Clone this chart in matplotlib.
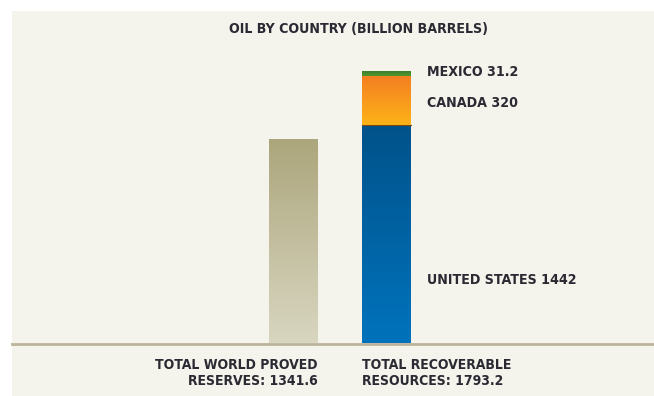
import matplotlib.pyplot as plt
import numpy as np
from matplotlib.colors import LinearSegmentedColormap
from matplotlib.transforms import blended_transform_factory

# billion barrels
countries = ['UNITED STATES', 'CANADA', 'MEXICO']
country_values = [1442, 320, 31.2]
world_proved = 1341.6
total_recoverable = 1793.2
bottom_labels = ['TOTAL WORLD PROVED\nRESERVES: 1341.6', 'TOTAL RECOVERABLE\nRESOURCES: 1793.2']

W, H = 654, 396
DPI = 100
BG = '#f4f3ec'
INK = '#2b2a33'
FONT = dict(family='DejaVu Sans', fontweight='bold', fontstretch='condensed', color=INK)

fig = plt.figure(figsize=(W / DPI, H / DPI), dpi=DPI, facecolor='white')

# cream panel with a white margin on the top and left
panel = plt.Rectangle((12 / W, 0), 1 - 12 / W, 1 - 11 / H, transform=fig.transFigure,
                      facecolor=BG, edgecolor='none', zorder=-5)
fig.patches.append(panel)

base_px = 343.5
ax = fig.add_axes([12 / W, (H - base_px) / H, 1 - 12 / W, (base_px - 11) / H])
ax.set_facecolor('none')
ax.axis('off')

grads = {
    'world': ['#d9d6c1', '#aca67c'],
    'UNITED STATES': ['#0073bc', '#00528a'],
    'CANADA': ['#fdb318', '#f47f22'],
    'MEXICO': ['#529632', '#3d7f2a'],
}


def fill_gradient(patch, colors):
    x0, y0 = patch.get_x(), patch.get_y()
    w, h = patch.get_width(), patch.get_height()
    cmap = LinearSegmentedColormap.from_list('g', colors)
    grad = np.linspace(0, 1, 256).reshape(-1, 1)
    ax.imshow(grad, cmap=cmap, origin='lower', aspect='auto',
              extent=(x0, x0 + w, y0, y0 + h), zorder=2)
    patch.set_facecolor('none')


bw = 0.528
b = ax.bar(0, world_proved, width=bw, edgecolor='none')[0]
fill_gradient(b, grads['world'])

bottom = 0
seg = {}
for name, v in zip(countries, country_values):
    p = ax.bar(1, v, bottom=bottom, width=bw, edgecolor='none')[0]
    fill_gradient(p, grads[name])
    seg[name] = (bottom, v)
    bottom += v
# thin dark seam between the blue and orange blocks
ax.plot([1 - bw / 2, 1 + bw / 2], [country_values[0]] * 2, color='#7a4a10', lw=0.8, zorder=3)

ax.set_xlim(-3.033, 3.885)
ax.set_ylim(0, 2193)

ax.axhline(0, color='#bcb49a', lw=2, zorder=4, clip_on=False)

# country labels beside the stacked bar
lx = 1 + bw / 2 + 0.17
label_y = {
    'MEXICO': seg['MEXICO'][0] + seg['MEXICO'][1],
    'CANADA': seg['CANADA'][0] + seg['CANADA'][1] * 0.45,
    'UNITED STATES': seg['UNITED STATES'][1] * 0.29,
}
for name, v in zip(countries, country_values):
    ax.text(lx, label_y[name], f'{name} {v:g}', ha='left', va='center',
            fontsize=10.2, **FONT)

trans = blended_transform_factory(ax.transData, ax.transAxes)
ax.annotate(bottom_labels[0], xy=(bw / 2, 0), xycoords=trans,
            xytext=(0, -10.5), textcoords='offset points', ha='right', va='top',
            fontsize=10, linespacing=1.2, multialignment='right',
            annotation_clip=False, **FONT)
ax.annotate(bottom_labels[1], xy=(1 - bw / 2, 0), xycoords=trans,
            xytext=(0, -10.5), textcoords='offset points', ha='left', va='top',
            fontsize=10, linespacing=1.2, multialignment='left',
            annotation_clip=False, **FONT)

fig.text(358.5 / W, 1 - 29 / H, 'OIL BY COUNTRY (BILLION BARRELS)', ha='center', va='center',
         fontsize=10.2, **FONT)

fig.savefig('out.png', dpi=DPI, facecolor='white')
